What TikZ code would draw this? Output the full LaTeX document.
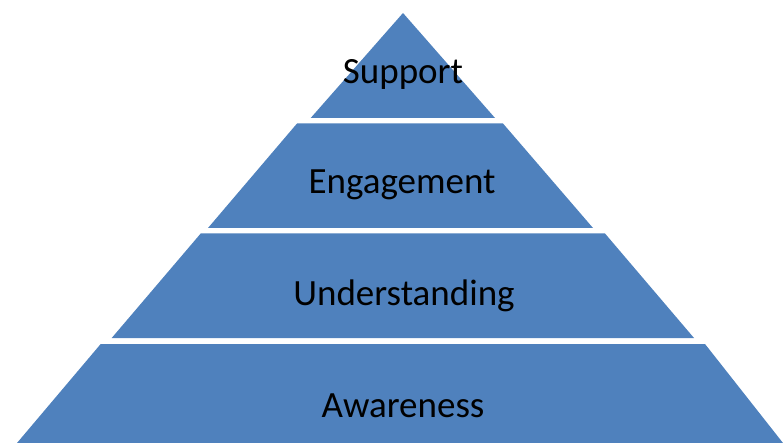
\documentclass[tikz,border=0pt]{standalone}
\usepackage{fontspec}
\setmainfont{Carlito}
\definecolor{pyrblue}{HTML}{4F81BD}
\begin{document}
\begin{tikzpicture}[x=1pt,y=-1pt,
  layer/.style={fill=pyrblue,draw=none},
  lbl/.style={font=\fontsize{37}{44}\selectfont,text=black,inner sep=0pt}]
\useasboundingbox (0,0) rectangle (783,443);
\fill[layer] (403,13) -- (495,118) -- (310.7,118) -- cycle;
\fill[layer] (297,123.5) -- (503,123.5) -- (593,228) -- (208,228) -- cycle;
\fill[layer] (200.7,233.5) -- (605,233.5) -- (694,338) -- (111.7,338) -- cycle;
\fill[layer] (100.7,344) -- (705,344) -- (783,443) -- (17,443) -- cycle;
\node[lbl] (support) at (403,74) {Support};
\node[lbl] (engagement) at (402,185) {Engagement};
\node[lbl] (understanding) at (404,296) {Understanding};
\node[lbl] (awareness) at (403,406) {Awareness};
\end{tikzpicture}
\end{document}
